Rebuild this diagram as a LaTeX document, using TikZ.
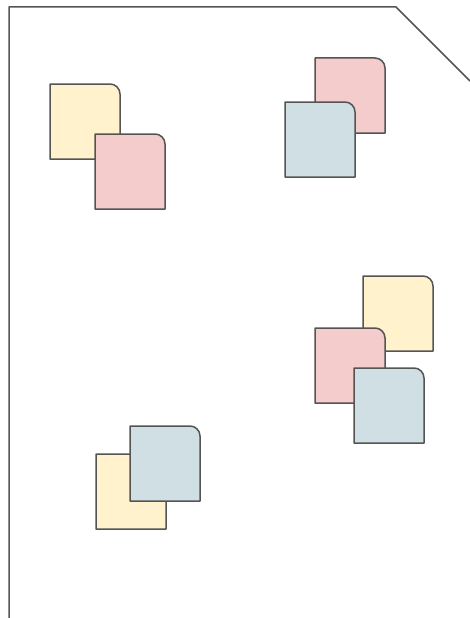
\documentclass[tikz,border=0pt]{standalone}
\usepackage{tikz}
\begin{document}
\begin{tikzpicture}[x=1pt,y=-1pt, line join=round, line cap=round]
	\definecolor{note yellow}{HTML}{FFF2CC}
	\definecolor{note pink}{HTML}{F4CCCC}
	\definecolor{note blue}{HTML}{D0DFE3}
	\colorlet{note edge}{black!67}
	\tikzset{card/.style={draw=note edge, line width=1.5pt},
	page/.style={draw=note edge, line width=1.5pt}}
	% card: top left corner, fill
	\def\card#1#2#3{\filldraw[card, fill=#3] (#1,#2+75) -- (#1,#2) -- (#1+60,#2)
		arc[start angle=-90, end angle=0, radius=10] -- (#1+70,#2+75) -- cycle;}
	\useasboundingbox (0,0) rectangle (470,618);
	% page outline
	\draw[page] (9,618) -- (9,7) -- (396,7) -- (470,81);
	% top left
	\card{50}{84}{note yellow}
	\card{95}{134}{note pink}
	% top right
	\card{315}{58}{note pink}
	\card{285}{102}{note blue}
	% middle right
	\card{363}{276}{note yellow}
	\card{315}{328}{note pink}
	\card{354}{368}{note blue}
	% bottom left
	\card{96}{454}{note yellow}
	\card{130}{426}{note blue}
\end{tikzpicture}
\end{document}
